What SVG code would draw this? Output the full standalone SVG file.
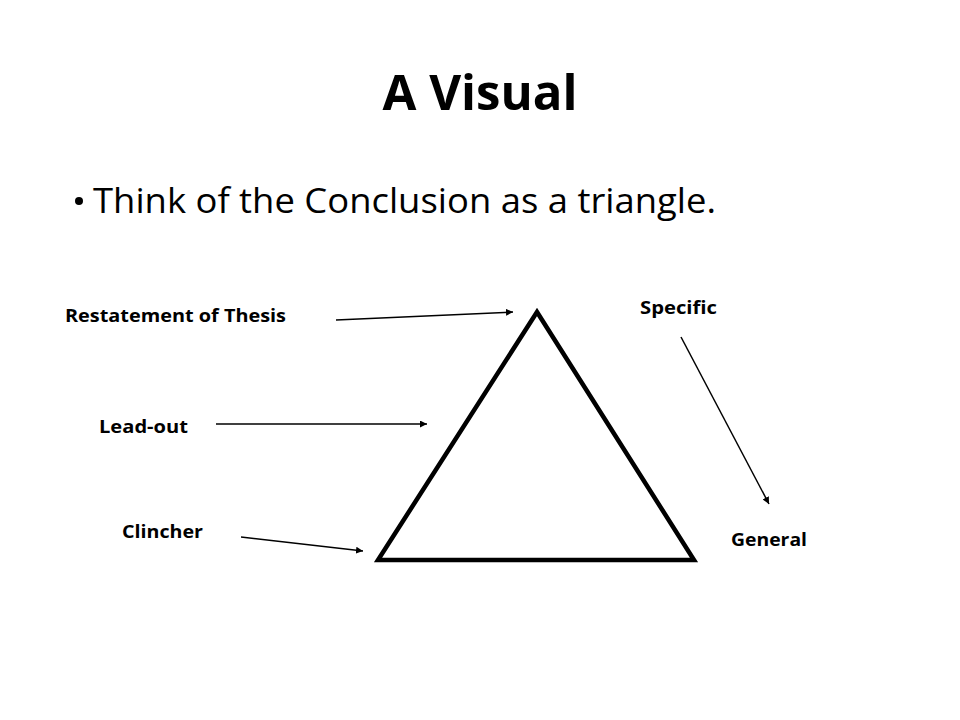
<svg xmlns="http://www.w3.org/2000/svg" width="960" height="720" viewBox="0 0 960 720">
<style>
text{font-family:"Open Sans","Noto Sans","Liberation Sans",sans-serif;fill:#000}
.lbl{font-size:17px;font-weight:bold}
.conn line{stroke:#000;stroke-width:1.5;fill:none}
</style>
<defs>
<marker id="ah" viewBox="0 0 10 10" refX="10" refY="5" markerWidth="7" markerHeight="7" markerUnits="userSpaceOnUse" orient="auto"><path d="M0,0 L10,5 L0,10 z" fill="#000"/></marker>
</defs>
<rect width="960" height="720" fill="#fff"/>
<g id="title"><text x="480" y="110" text-anchor="middle" font-size="48" font-weight="bold" textLength="195" lengthAdjust="spacingAndGlyphs">A Visual</text></g>
<g id="bullet"><circle cx="79" cy="201" r="4" fill="#000"/><text x="93" y="213" font-size="35" textLength="623" lengthAdjust="spacingAndGlyphs">Think of the Conclusion as a triangle.</text></g>
<g id="triangle"><polygon points="537,312 378,560 694,560" fill="none" stroke="#000" stroke-width="4.5" stroke-linejoin="miter"/></g>
<g id="restatement"><text class="lbl" x="65" y="322" textLength="221" lengthAdjust="spacingAndGlyphs">Restatement of Thesis</text></g>
<g id="leadout"><text class="lbl" x="99" y="433" textLength="89" lengthAdjust="spacingAndGlyphs">Lead-out</text></g>
<g id="clincher"><text class="lbl" x="122" y="538" textLength="81" lengthAdjust="spacingAndGlyphs">Clincher</text></g>
<g id="specific"><text class="lbl" x="640" y="314" textLength="77" lengthAdjust="spacingAndGlyphs">Specific</text></g>
<g id="general"><text class="lbl" x="731" y="546" textLength="76" lengthAdjust="spacingAndGlyphs">General</text></g>
<g class="conn" id="connectors">
<line x1="336" y1="320" x2="513" y2="312" marker-end="url(#ah)"/>
<line x1="216" y1="424" x2="427" y2="424" marker-end="url(#ah)"/>
<line x1="241" y1="537" x2="363" y2="551" marker-end="url(#ah)"/>
<line x1="681" y1="337" x2="769" y2="504" stroke-width="1" marker-end="url(#ah)"/>
</g>
</svg>
